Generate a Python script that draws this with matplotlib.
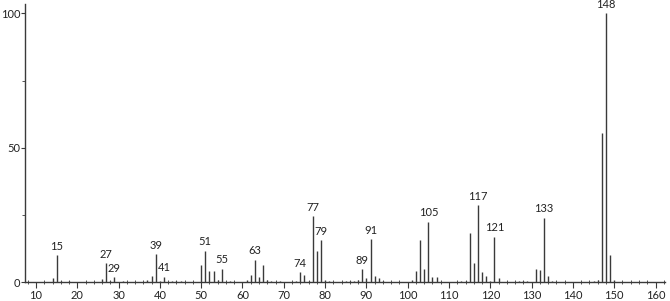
import matplotlib
matplotlib.use("Agg")
import matplotlib.pyplot as plt
from matplotlib.ticker import MultipleLocator

plt.rcParams['font.family'] = ['Lato', 'DejaVu Sans']

mz = [14, 15, 16, 18, 26, 27, 28, 29, 31, 37, 38, 39, 40, 41, 43, 44, 45,
      50, 51, 52, 53, 54, 55, 57, 61, 62, 63, 64, 65, 66, 67, 69, 73, 74, 75,
      76, 77, 78, 79, 80, 81, 85, 86, 87, 88, 89, 90, 91, 92, 93, 94, 101,
      102, 103, 104, 105, 106, 107, 113, 114, 115, 116, 117, 118, 119, 120,
      121, 122, 127, 128, 129, 131, 132, 133, 134, 135, 145, 146, 147, 148,
      149, 150]
intensity = [1.6, 10.0, 0.5, 0.4, 1.0, 7.0, 0.5, 1.7, 0.5, 0.6, 2.2, 10.4,
             0.5, 2.0, 0.5, 0.4, 0.4, 6.3, 11.6, 4.1, 4.1, 0.8, 5.0, 0.4, 0.6,
             2.6, 8.2, 2.0, 6.3, 0.6, 0.5, 0.4, 0.5, 3.7, 2.7, 0.5, 24.5, 11.5,
             15.6, 0.8, 0.4, 0.5, 0.5, 0.5, 0.6, 4.7, 1.6, 16.0, 2.2, 1.5, 0.4,
             0.6, 4.1, 15.6, 4.8, 22.4, 2.0, 2.0, 0.5, 0.4, 18.3, 7.0, 28.6,
             3.8, 2.4, 0.4, 16.8, 1.6, 0.4, 0.5, 0.5, 4.8, 4.3, 23.9, 2.1, 0.5,
             0.4, 0.6, 55.4, 100.0, 10.0, 0.6]
labeled = [15, 27, 29, 39, 41, 51, 55, 63, 74, 77, 79, 89, 91, 105, 117, 121,
           133, 148]
xticks = list(range(10, 161, 10))
yticks = [0, 50, 100]

fig = plt.figure(figsize=(6.70, 3.01), dpi=100)
ax = fig.add_axes([25 / 670, 0.0631, 640 / 670, 0.9236])
col = "#3a3a3a"
ax.vlines(mz, 0, intensity, colors=col, linewidth=1.0)
lookup = dict(zip(mz, intensity))
for m in labeled:
    ax.text(m, lookup[m] + 1.3, str(m), ha="center", va="bottom",
            fontsize=8, color="#222222")

ax.set_xlim(7.34, 162.3)
ax.set_ylim(0, 103.5)
ax.set_xticks(xticks)
ax.set_yticks(yticks)
ax.xaxis.set_minor_locator(MultipleLocator(2))
ax.yaxis.set_minor_locator(MultipleLocator(25))
for s in ["top", "right"]:
    ax.spines[s].set_visible(False)
for s in ["left", "bottom"]:
    ax.spines[s].set_color(col)
    ax.spines[s].set_linewidth(1.0)
ax.tick_params(axis="both", which="major", labelsize=8, colors=col,
               labelcolor="#222222", length=3, width=0.8, pad=0.5)
ax.tick_params(axis="x", which="major", length=4, pad=2)
ax.tick_params(axis="x", which="minor", direction="inout", length=3,
               width=0.6, colors=col)
ax.tick_params(axis="y", which="minor", length=2, width=0.6, colors=col)
fig.savefig("out.png", dpi=100)
